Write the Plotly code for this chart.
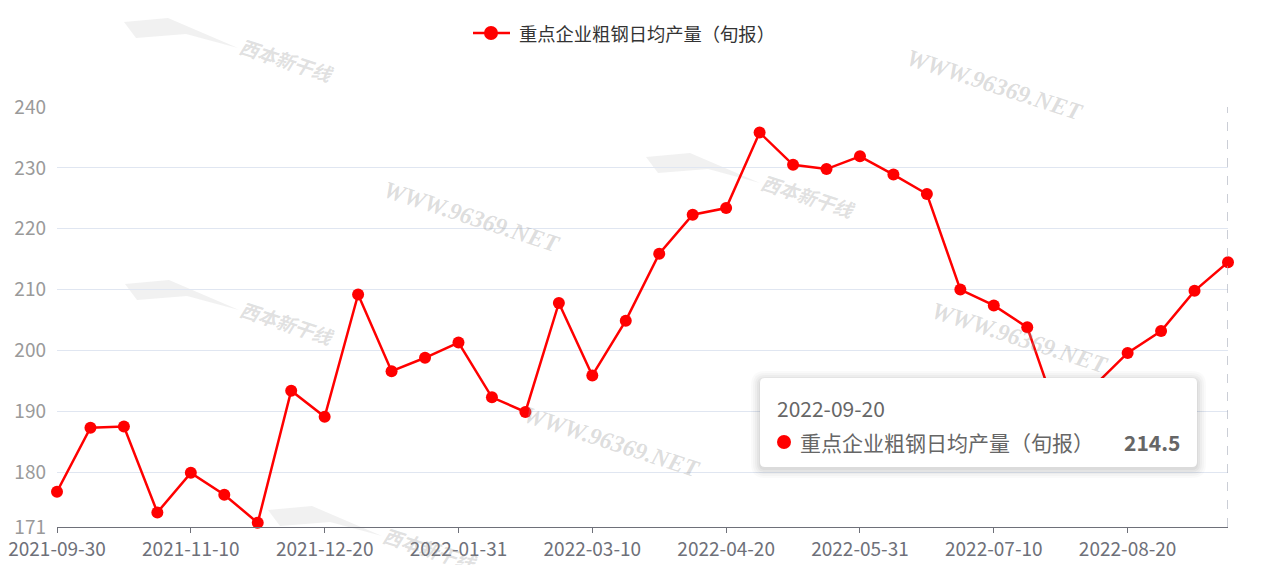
import plotly.graph_objects as go

dates = ["2021-09-30", "2021-10-10", "2021-10-20", "2021-10-31", "2021-11-10", "2021-11-20",
         "2021-11-30", "2021-12-10", "2021-12-20", "2021-12-31", "2022-01-10", "2022-01-20",
         "2022-01-31", "2022-02-10", "2022-02-20", "2022-02-28", "2022-03-10", "2022-03-20",
         "2022-03-31", "2022-04-10", "2022-04-20", "2022-04-30", "2022-05-10", "2022-05-20",
         "2022-05-31", "2022-06-10", "2022-06-20", "2022-06-30", "2022-07-10", "2022-07-20",
         "2022-07-31", "2022-08-10", "2022-08-20", "2022-08-31", "2022-09-10", "2022-09-20"]
values = [176.8, 187.3, 187.5, 173.4, 179.9, 176.3, 171.7, 193.4, 189.1, 209.2, 196.6, 198.8,
          201.3, 192.3, 189.9, 207.8, 195.9, 204.9, 215.9, 222.3, 223.4, 235.8, 230.5, 229.8,
          231.9, 228.9, 225.7, 210.0, 207.4, 203.8, 187.9, 194.2, 199.6, 203.2, 209.8, 214.5]
series_name = "重点企业粗钢日均产量（旬报）"
y_ticks = [171, 180, 190, 200, 210, 220, 230, 240]
tick_idx = list(range(0, len(dates), 4))

FONT = "Microsoft YaHei, Noto Sans CJK SC, sans-serif"
OFF = 8  # page body margin added by the html page
W, H = 1274, 565
PL, PR, PT, PB = 57, 1228, 107, 527  # plot area in page pixels
L, T = PL - OFF, PT - OFF
R, B = W - PR, H - PB
FW, FH = W - OFF, H - OFF
PW, PH = PR - PL, PB - PT

def px(x):
    return (x - PL) / PW

def py(y):
    return (PB - y) / PH

x_idx = list(range(len(dates)))
RED = "#FF0000"

fig = go.Figure()
fig.add_trace(go.Scatter(
    x=x_idx, y=values, mode="lines+markers", name=series_name,
    line=dict(color=RED, width=2.5),
    marker=dict(color=RED, size=12),
    showlegend=False, cliponaxis=False,
))

shapes = []
annotations = []

# watermarks
for (cx, cy) in [(995, 85), (472, 217), (1020, 338), (612, 442)]:
    annotations.append(dict(x=px(cx), y=py(cy), xref="paper", yref="paper",
                            xanchor="center", yanchor="middle",
                            text="<b><i>WWW.96369.NET</i></b>", showarrow=False,
                            textangle=18, font=dict(family="Liberation Serif, serif", size=24,
                                                    color="rgba(150,150,150,0.32)")))
for (cx, cy) in [(286, 60), (287, 322), (808, 195), (430, 548)]:
    annotations.append(dict(x=px(cx), y=py(cy), xref="paper", yref="paper",
                            xanchor="center", yanchor="middle",
                            text="<b><i>西本新干线</i></b>", showarrow=False, textangle=18,
                            font=dict(family=FONT, size=19, color="rgba(150,150,150,0.30)")))
    shapes.append(dict(type="path", xref="paper", yref="paper", layer="below",
                       path=(f"M {px(cx-162)} {py(cy-38)} L {px(cx-118)} {py(cy-42)} "
                             f"L {px(cx-48)} {py(cy-12)} L {px(cx-100)} {py(cy-26)} "
                             f"L {px(cx-150)} {py(cy-22)} Z"),
                       fillcolor="rgba(170,170,170,0.16)", line=dict(width=0)))

# axis pointer line
shapes.append(dict(type="line", xref="x", yref="paper", x0=len(dates) - 1, x1=len(dates) - 1,
                   y0=0, y1=1, line=dict(color="#A9AEBB", width=1.2, dash="dash")))

# legend (drawn)
shapes.append(dict(type="line", xref="paper", yref="paper", x0=px(473), x1=px(510),
                   y0=py(33), y1=py(33), line=dict(color=RED, width=2.5)))
shapes.append(dict(type="circle", xref="paper", yref="paper", x0=px(484), x1=px(498),
                   y0=py(26), y1=py(40), fillcolor=RED, line=dict(width=0)))
annotations.append(dict(x=px(517), y=py(33), xref="paper", yref="paper", xanchor="left",
                        yanchor="middle", text=series_name, showarrow=False,
                        font=dict(family=FONT, size=18.3, color="#333333")))

# tooltip
bx0, by0, bx1, by1 = 760, 378, 1197, 467
r = 5
def rrect(x0, y0, x1, y1, r):
    return (f"M {px(x0+r)} {py(y0)} L {px(x1-r)} {py(y0)} Q {px(x1)} {py(y0)} {px(x1)} {py(y0+r)} "
            f"L {px(x1)} {py(y1-r)} Q {px(x1)} {py(y1)} {px(x1-r)} {py(y1)} "
            f"L {px(x0+r)} {py(y1)} Q {px(x0)} {py(y1)} {px(x0)} {py(y1-r)} "
            f"L {px(x0)} {py(y0+r)} Q {px(x0)} {py(y0)} {px(x0+r)} {py(y0)} Z")
for k, op in [(9, 0.018), (7, 0.022), (5, 0.028), (3, 0.035), (1, 0.04)]:
    shapes.append(dict(type="path", xref="paper", yref="paper",
                       path=rrect(bx0 - k, by0 - k + 2, bx1 + k, by1 + k + 2, r + k),
                       fillcolor=f"rgba(0,0,0,{op})", line=dict(width=0)))
shapes.append(dict(type="path", xref="paper", yref="paper", path=rrect(bx0, by0, bx1, by1, r),
                   fillcolor="white", line=dict(width=0)))
shapes.append(dict(type="circle", xref="paper", yref="paper",
                   x0=px(777), x1=px(791), y0=py(435), y1=py(449),
                   fillcolor=RED, line=dict(width=0)))
annotations.append(dict(x=px(775), y=py(408), xref="paper", yref="paper", xanchor="left",
                        yanchor="middle", text=dates[-1], showarrow=False,
                        font=dict(family=FONT, size=21, color="#666666")))
annotations.append(dict(x=px(798), y=py(442), xref="paper", yref="paper", xanchor="left",
                        yanchor="middle", text=series_name, showarrow=False,
                        font=dict(family=FONT, size=21, color="#666666")))
annotations.append(dict(x=px(1182), y=py(442), xref="paper", yref="paper", xanchor="right",
                        yanchor="middle", text=f"<b>{values[-1]}</b>", showarrow=False,
                        font=dict(family=FONT, size=21, color="#666666")))

fig.update_layout(
    width=FW, height=FH,
    margin=dict(l=L, r=R, t=T, b=B, pad=0, autoexpand=False),
    paper_bgcolor="white", plot_bgcolor="white",
    font=dict(family=FONT),
    showlegend=False,
    xaxis=dict(range=[0, len(dates) - 1], tickmode="array", tickvals=tick_idx,
               ticktext=[dates[i] for i in tick_idx], showgrid=False, zeroline=False,
               showline=True, linecolor="#6E7079", linewidth=1.2, ticks="outside",
               ticklen=5, tickcolor="#6E7079", tickfont=dict(size=19, color="#6E7079"),
               automargin=False),
    yaxis=dict(range=[171, 240], tickmode="array", tickvals=y_ticks, showgrid=True,
               gridcolor="#E0E6F1", gridwidth=1, zeroline=False, showline=False,
               ticks="", tickfont=dict(size=19, color="#9A9A9A"), ticklabelstandoff=10,
               automargin=False),
    shapes=shapes, annotations=annotations,
    hovermode=False,
)

fig.write_html("out.html")
